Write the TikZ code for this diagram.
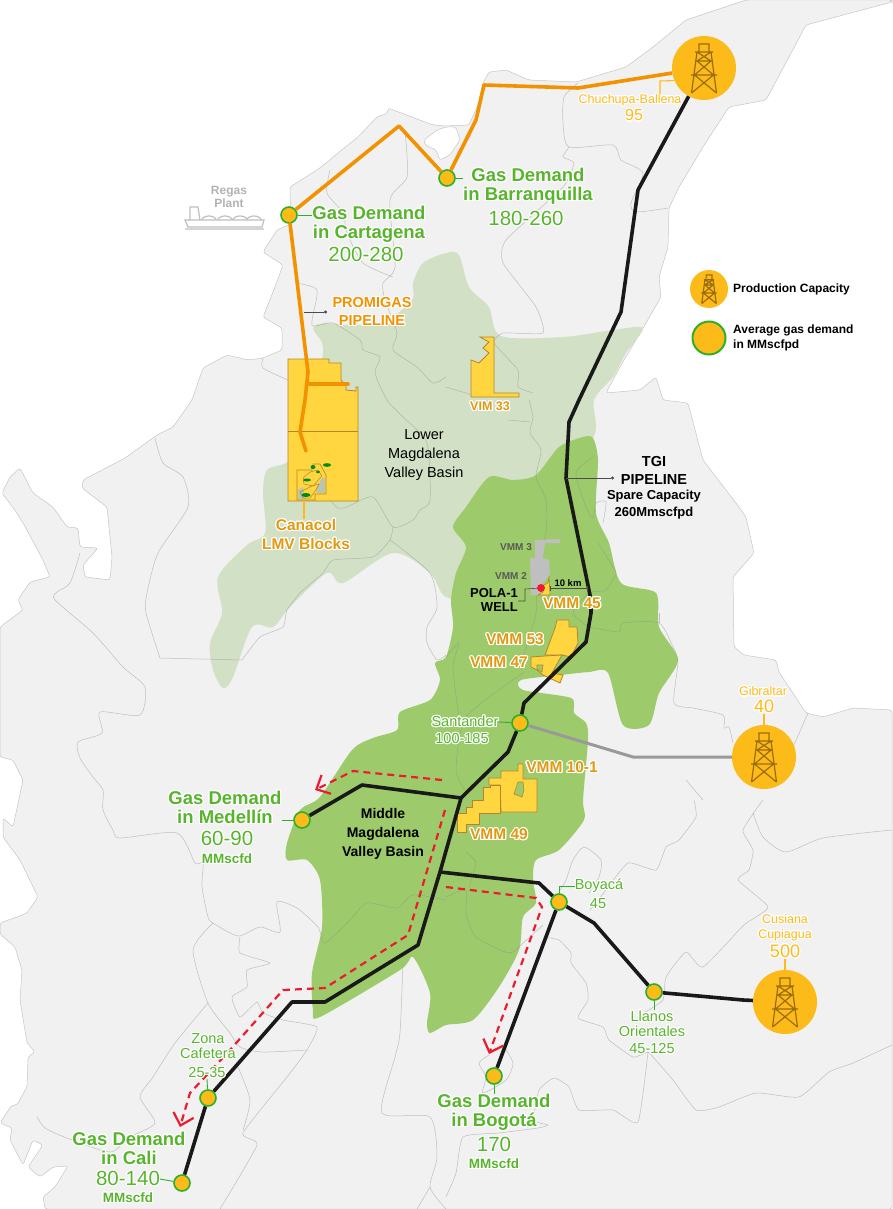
\documentclass[tikz,border=0pt]{standalone}
\usepackage{fontspec}
\usepackage[copies]{contour}
\usetikzlibrary{arrows.meta}
\setmainfont{Liberation Sans}
\contourlength{1.1pt}
\newcommand{\halo}[1]{\contour{white}{#1}}
\definecolor{landgrey}{HTML}{F1F1F1}
\definecolor{linegrey}{HTML}{C6C6C6}
\definecolor{palegreen}{HTML}{D2E1C6}
\definecolor{midgreen}{HTML}{9DCB6B}
\definecolor{blockyellow}{HTML}{FFD640}
\definecolor{blockedge}{HTML}{B5842B}
\definecolor{capacity}{HTML}{FDBB19}
\definecolor{rigbrown}{HTML}{9A6C10}
\definecolor{nodegreen}{HTML}{2DAF2C}
\definecolor{textgreen}{HTML}{58B42C}
\definecolor{pipeorange}{HTML}{F39200}
\definecolor{blocktext}{HTML}{E09A10}
\definecolor{routered}{HTML}{EC1C2E}
\tikzset{
  land/.style={fill=landgrey,draw=linegrey,line width=0.5pt,rounded corners=2.5pt},
  border/.style={draw=black!45,opacity=0.5,line width=0.5pt},
  block/.style={fill=blockyellow,draw=blockedge,line width=0.8pt},
  production/.style={circle,fill=capacity,inner sep=0pt,minimum size=64pt},
  demand/.style={circle,fill=capacity,draw=nodegreen,line width=1.6pt,inner sep=0pt,minimum size=16pt},
  promigas/.style={draw=pipeorange,line width=3.6pt,line join=round},
  tgi/.style={draw=black!90,line width=3.6pt,line join=round},
  spur/.style={draw=black!40,line width=3pt,line join=round},
  route/.style={draw=routered,line width=2.2pt,dash pattern=on 7pt off 5pt,-{Straight Barb[length=11pt,width=21pt]}},
  greenlead/.style={draw=nodegreen,line width=0.9pt},
  yellowlead/.style={draw=capacity,line width=1.1pt},
  darklead/.style={draw=black!70,line width=0.6pt,{Circle[length=3pt]}-},
  demandname/.style={text=textgreen,font=\fontsize{18.5}{19}\selectfont\bfseries,align=center,inner sep=0pt},
  demandnum/.style={text=textgreen,font=\fontsize{20.5}{21}\selectfont,align=center,inner sep=0pt},
  demandunit/.style={text=textgreen,font=\fontsize{13.5}{14}\selectfont\bfseries,inner sep=0pt},
  smallgreen/.style={text=textgreen,font=\fontsize{14.5}{15}\selectfont,align=center,inner sep=0pt},
  smallyellow/.style={text=capacity,font=\fontsize{12.5}{15}\selectfont,align=center,inner sep=0pt},
  bignumyellow/.style={text=capacity,font=\fontsize{18}{18}\selectfont,inner sep=0pt},
  blockname/.style={text=blocktext,font=\fontsize{15.5}{19}\selectfont\bfseries,align=center,inner sep=0pt},
  greyblock/.style={text=black!65,font=\fontsize{10}{10}\selectfont\bfseries,inner sep=0pt},
  basin/.style={font=\fontsize{14.5}{19}\selectfont,align=center,inner sep=0pt},
  blackbold/.style={font=\fontsize{14}{17}\selectfont\bfseries,align=center,inner sep=0pt},
  legendtext/.style={font=\fontsize{12}{15}\selectfont\bfseries,align=left,anchor=west,inner sep=0pt},
  rig/.pic={
    \draw[draw=rigbrown,line width=1.2pt]
      (-5,-16) -- (-5,-24) -- (5,-24) -- (5,-16)
      (-9,-16) -- (9,-16)
      (-7,-16) -- (-12.5,25)
      (7,-16) -- (12.5,25)
      (-7,-7) -- (7,-7)
      (-13,7) -- (13,7)
      (-7,-16) -- (7,-7)
      (7,-16) -- (-7,-7)
      (-7,-7) -- (9.5,7)
      (7,-7) -- (-9.5,7)
      (-9.5,7) -- (12.5,25)
      (9.5,7) -- (-12.5,25);
  }
}
\begin{document}
\begin{tikzpicture}[x=1pt,y=-1pt]
  \useasboundingbox (0,0) rectangle (892,1209);

  \draw[land] (746,0) -- (892,0) -- (892,2) -- (806,25) -- (766,100) -- (729,107) -- (703,147) -- (679,187) -- (669,208) -- (668,247) -- (659,277) -- (661,297) -- (643,328) -- (620,367) -- (606,393) -- (640,390) -- (656,377) -- (663,400) -- (688,403) -- (703,460) -- (739,507) -- (746,517) -- (754,553) -- (733,577) -- (734,647) -- (744,655) -- (776,660) -- (779,672) -- (806,713) -- (823,717) -- (853,708) -- (892,710) -- (892,1209) -- (45,1209) -- (43,1197) -- (55,1187) -- (68,1166) -- (53,1167) -- (40,1177) -- (28,1167) -- (43,1145) -- (33,1140) -- (23,1165) -- (10,1140) -- (12,1128) -- (0,1123) -- (12,1105) -- (17,1105) -- (27,1087) -- (28,1057) -- (35,1052) -- (27,1043) -- (20,1000) -- (22,970) -- (15,947) -- (0,934) -- (0,923) -- (17,917) -- (27,913) -- (38,897) -- (20,860) -- (3,837) -- (3,818) -- (13,827) -- (23,780) -- (13,760) -- (0,757) -- (0,627) -- (23,610) -- (18,600) -- (30,582) -- (50,577) -- (43,560) -- (27,530) -- (17,513) -- (2,493) -- (10,477) -- (20,468) -- (33,493) -- (53,507) -- (67,527) -- (78,528) -- (80,547) -- (98,548) -- (83,565) -- (85,577) -- (110,580) -- (112,557) -- (107,507) -- (82,488) -- (83,480) -- (125,458) -- (157,435) -- (173,427) -- (192,400) -- (203,368) -- (227,355) -- (248,360) -- (263,358) -- (282,350) -- (282,328) -- (263,317) -- (275,287) -- (283,265) -- (263,252) -- (277,230) -- (293,223) -- (290,200) -- (290,187) -- (317,170) -- (330,160) -- (333,157) -- (358,137) -- (377,117) -- (388,113) -- (388,108) -- (433,125) -- (446,126) -- (469,125) -- (478,105) -- (483,83) -- (489,72) -- (506,70) -- (529,80) -- (576,82) -- (626,67) -- (653,47) -- (686,20) -- cycle;
  \draw[fill=white,draw=linegrey,line width=0.5pt,rounded corners=2pt] (437,130) -- (446,127) -- (456,127) -- (460,140) -- (450,155) -- (440,160) -- (436,150) -- (425,145) -- (424,140) -- cycle;

  \fill[palegreen] plot[smooth cycle,tension=0.5] coordinates {(446,253) (423,263) (413,283) (412,300) (383,323) (350,325) (325,323) (313,328) (322,343) (322,360) (310,440) (288,462) (267,470) (263,493) (265,533) (247,545) (218,577) (222,613) (210,643) (213,670) (223,688) (233,677) (252,627) (273,627) (290,607) (327,573) (343,583) (393,553) (430,573) (446,597) (480,590) (540,480) (593,438) (594,400) (613,377) (626,353) (643,328) (613,330) (563,337) (501,336) (489,307) (469,287) (459,255)};
  \fill[midgreen] plot[smooth cycle,tension=0.45] coordinates {(593,438) (598,460) (596,513) (609,543) (621,583) (656,593) (659,627) (678,660) (659,693) (649,725) (623,725) (608,673) (589,672) (561,675) (521,680) (523,690) (571,698) (574,713) (586,723) (588,740) (583,800) (584,820) (559,850) (536,860) (533,880) (536,903) (523,917) (519,950) (499,987) (473,1020) (446,1025) (430,1033) (427,1023) (430,993) (413,957) (400,970) (320,1017) (313,1010) (312,973) (322,927) (320,880) (307,860) (287,860) (287,843) (300,810) (320,797) (352,750) (373,738) (397,730) (400,712) (430,700) (440,680) (435,663) (446,657) (453,627) (451,600) (456,573) (466,547) (453,527) (466,507) (489,477) (513,480) (536,475) (559,447) (583,437)};

  \draw[border] plot[smooth,tension=0.4] coordinates {(399,126) (405,133) (407,177) (390,200) (395,267) (383,283) (385,300) (397,333) (393,350) (417,367) (433,383) (446,377)};
  \draw[border] plot[smooth,tension=0.4] coordinates {(330,170) (327,193) (343,213) (347,233) (363,263) (393,277)};
  \draw[border] plot[smooth,tension=0.4] coordinates {(295,283) (317,290) (312,325) (333,323) (360,340) (363,350) (380,357) (375,373) (387,400) (403,417) (427,443) (430,500) (420,510) (413,520) (393,527) (373,497) (347,507) (338,508) (330,500)};
  \draw[border] plot[smooth,tension=0.4] coordinates {(263,358) (263,368) (288,380)};
  \draw[border] plot[smooth,tension=0.3] coordinates {(393,527) (390,540) (373,557) (333,560) (323,573) (300,593) (287,610) (283,627) (260,637) (242,660)};
  \draw[border] (242,660) -- (160,658);
  \draw[border] plot[smooth,tension=0.4] coordinates {(160,658) (146,613) (147,593) (158,553) (188,507) (183,477) (163,463) (155,438)};
  \draw[border] plot[smooth,tension=0.4] coordinates {(390,540) (430,573) (437,607) (427,627) (427,643) (437,660) (446,655)};
  \draw[border] plot[smooth,tension=0.4] coordinates {(80,553) (70,583) (57,592) (55,600) (93,633) (123,667) (145,687) (140,715) (100,712) (102,733) (78,742) (80,758) (93,777) (103,790) (103,810) (113,830) (120,838) (177,833) (195,863) (203,863) (202,887) (208,917) (213,923) (238,936) (260,927) (280,932) (277,902) (297,908) (318,927) (325,943) (350,920) (367,903) (397,908) (413,895) (446,900)};
  \draw[border] plot[smooth,tension=0.4] coordinates {(213,923) (193,950) (208,1003) (230,1033) (240,1047) (262,1052) (307,1050)};
  \draw[border] plot[smooth,tension=0.4] coordinates {(208,1003) (175,1043) (153,1077) (140,1097) (155,1123) (130,1137) (110,1152) (67,1138) (45,1128) (37,1117)};
  \draw[border] plot[smooth,tension=0.3] coordinates {(240,937) (240,953) (270,963) (247,970) (247,987) (232,997) (240,1017) (257,1002) (263,1013) (283,1020) (317,1027) (307,1050) (287,1077) (243,1133) (257,1145) (220,1209)};
  \draw[border] plot[smooth,tension=0.4] coordinates {(238,1067) (250,1100) (243,1130)};
  \draw[border] plot[smooth,tension=0.4] coordinates {(403,963) (400,1033) (395,1057) (382,1113) (430,1117) (437,1157) (430,1187) (446,1209)};
  \draw[border] (430,1187) -- (417,1209);
  \draw[border] plot[smooth,tension=0.3] coordinates {(694,800) (696,817) (679,840) (666,847) (656,870) (628,863) (606,890) (590,910)};
  \draw[border] plot[smooth,tension=0.4] coordinates {(560,890) (566,880) (573,860) (584,847) (601,860) (599,877) (589,893)};
  \draw[border] plot[smooth,tension=0.3] coordinates {(763,800) (743,830) (753,850) (749,870) (738,880) (768,907) (744,925) (703,967) (686,952) (666,977) (663,1000) (645,1012)};
  \draw[border] plot[smooth,tension=0.4] coordinates {(753,813) (763,837) (786,852) (823,838) (892,830)};
  \draw[border] plot[smooth,tension=0.3] coordinates {(543,937) (559,940) (571,953) (571,963) (586,983) (588,1000) (578,1018) (603,1027) (609,1040) (633,1057) (648,1052) (653,1057) (673,1080) (696,1110) (719,1107) (756,1093) (799,1097) (829,1072) (853,1063) (892,1045)};
  \draw[border] plot[smooth,tension=0.3] coordinates {(648,1052) (638,1122) (613,1110) (579,1110) (569,1087) (554,1078) (539,1090) (534,1120) (548,1125) (538,1128) (499,1133) (463,1137) (456,1173) (446,1197)};
  \draw[border] plot[smooth,tension=0.4] coordinates {(489,1055) (479,1063) (486,1077) (483,1093) (506,1080) (513,1063) (504,1047)};
  \draw[border] plot[smooth,tension=0.4] coordinates {(446,897) (466,890) (466,913) (476,937) (509,953) (523,943) (543,925)};
  \draw[border] plot[smooth,tension=0.4] coordinates {(466,852) (476,863) (469,887)};
  \draw[border] plot[smooth,tension=0.4] coordinates {(459,717) (453,667) (459,643) (446,657)};
  \draw[border] plot[smooth,tension=0.4] coordinates {(523,673) (466,717) (456,770) (465,790)};
  \draw[border] plot[smooth,tension=0.4] coordinates {(589,627) (619,632) (623,623) (659,623) (673,647) (678,662) (674,703) (693,708) (723,715) (724,728) (729,727) (733,743)};
  \draw[border] (659,623) -- (659,613);
  \draw[border] plot[smooth,tension=0.4] coordinates {(686,780) (703,800)};
  \draw[border] plot[smooth,tension=0.4] coordinates {(808,713) (793,747) (779,777)};
  \draw[border] plot[smooth,tension=0.4] coordinates {(529,400) (533,417) (530,433) (541,450) (536,477) (546,500) (546,533) (536,567) (536,613) (523,657)};
  \draw[border] (508,420) -- (530,422);
  \draw[border] plot[smooth,tension=0.4] coordinates {(593,457) (576,473) (586,507) (593,518) (596,503) (606,502) (603,523)};
  \draw[border] plot[smooth,tension=0.4] coordinates {(598,543) (613,567) (616,573) (606,590) (589,593) (573,613) (589,627)};
  \draw[border] plot[smooth,tension=0.4] coordinates {(578,83) (564,97) (563,123) (569,147) (613,145) (621,160) (643,173) (631,203) (636,212) (668,208)};
  \draw[border] plot[smooth,tension=0.3] coordinates {(569,147) (563,157) (574,163) (563,187) (506,240) (503,263) (536,307) (543,333) (503,333) (494,343) (518,370) (518,387) (533,393)};
  \draw[border] (446,387) -- (479,397);

  \draw[block] (288,359) -- (329,359) -- (329,363) -- (341,363) -- (341,380) -- (346,386) -- (346,390) -- (356,391) -- (356,387) -- (358,387) -- (358,501) -- (288,501) -- cycle;
  \draw[draw=blockedge,line width=0.8pt] (288,431) -- (358,431);
  \draw[block,line width=0.6pt] (297,470) -- (312,470) -- (313,464) -- (320,464) -- (326,475) -- (326,494) -- (315,494) -- (315,500) -- (297,500) -- cycle;
  \fill[palegreen!70!gray] (298,490) -- (303,487) -- (306,499) -- (298,499) -- cycle;
  \fill[palegreen!70!gray] (316,489) -- (322,478) -- (325,478) -- (325,493) -- (317,493) -- cycle;
  \draw[draw=blockedge,line width=0.5pt] (303,478) -- (310,472) -- (318,470) -- (322,476) -- (313,486) -- (304,484) -- cycle;
  \draw[draw=blockedge,line width=0.5pt] (300,492) -- (312,486) -- (319,484) -- (316,490) -- (310,498) -- (303,498) -- cycle;
  \fill[green!55!black] (327,465) ellipse (4 and 1.8) (313,467) ellipse (2.5 and 2) (307,480) ellipse (4 and 1.5) (306,495) ellipse (4.5 and 2) (318,472) ellipse (2 and 1.2);
  \draw[block] (480,337) -- (494,337) -- (494,393) -- (519,393) -- (519,397) -- (471,397) -- (471,360) -- (479,363) -- (489,353) -- (483,348) -- (489,342) -- cycle;
  \draw[fill=black!25,draw=none] (530,558) -- (535,558) -- (535,540) -- (560,539) -- (560,543) -- (545,543) -- (543,558) -- (549,560) -- (550,575) -- (543,583) -- (542,595) -- (531,595) -- cycle;
  \draw[block,line width=0.6pt] (538,595) -- (543,592) -- (544,585) -- (548,583) -- (549,577) -- (550,595) -- cycle;
  \draw[block] (557,620) -- (569,620) -- (569,627) -- (577,627) -- (578,643) -- (571,657) -- (562,655) -- (545,655) -- (555,628) -- cycle;
  \draw[block] (531,657) -- (545,656) -- (562,655) -- (552,673) -- (563,675) -- (560,683) -- (543,675) -- (537,670) -- (531,667) -- cycle;
  \draw[fill=midgreen,draw=blockedge,line width=0.6pt] (537,665) -- (543,665) -- (542,672) -- (537,669) -- cycle;
  \draw[block] (489,778) -- (501,778) -- (501,771) -- (518,771) -- (518,764) -- (523,764) -- (523,779) -- (537,779) -- (537,812) -- (501,812) -- (500,785) -- (489,785) -- cycle;
  \draw[fill=midgreen,draw=blockedge,line width=0.6pt] (518,782) -- (523,782) -- (524,790) -- (522,797) -- (514,794) -- cycle;
  \draw[block] (457,832) -- (457,813) -- (466,813) -- (466,807) -- (472,807) -- (472,800) -- (483,800) -- (483,787) -- (490,787) -- (490,785) -- (500,785) -- (500,813) -- (479,813) -- (479,824) -- (466,824) -- (466,832) -- cycle;

  \node[production] (chuchupa) at (704,68) {};
  \node[production] (gibraltar) at (764,757) {};
  \node[production] (cusiana) at (785,1002) {};
  \node[demand] (barranquilla) at (447,178) {};
  \node[demand] (cartagena) at (289,215) {};
  \node[demand] (santander) at (520,723) {};
  \node[demand] (medellin) at (302,820) {};
  \node[demand] (boyaca) at (559,902) {};
  \node[demand] (llanos) at (654,992) {};
  \node[demand] (bogota) at (494,1076) {};
  \node[demand] (zona) at (208,1098) {};
  \node[demand] (cali) at (182,1183) {};
  \pic at (chuchupa) {rig};
  \pic at (gibraltar) {rig};
  \pic at (cusiana) {rig};

  \coordinate (pa) at (578,88);
  \coordinate (pb) at (484,85);
  \coordinate (pc) at (476,120);
  \coordinate (pd) at (399,126);
  \coordinate (pe) at (308,372);
  \coordinate (pf) at (305,400);
  \coordinate (pg) at (300,432);
  \coordinate (ph) at (306,451);
  \coordinate (pi) at (307,384);
  \coordinate (pj) at (348,384);
  \draw[promigas] (chuchupa) -- (pa) -- (pb) -- (pc) -- (barranquilla);
  \draw[promigas] (barranquilla) -- (pd) -- (cartagena);
  \draw[promigas,line cap=round] (cartagena) -- (pe) -- (pf) -- (pg) -- (ph);
  \draw[promigas,line cap=round] (pi) -- (pj);

  \coordinate (ta) at (638,190);
  \coordinate (tb) at (621,312);
  \coordinate (tc) at (579,400);
  \coordinate (td) at (569,422);
  \coordinate (te) at (566,478);
  \coordinate (tf) at (591,600);
  \coordinate (tg) at (591,613);
  \coordinate (th) at (586,642);
  \coordinate (ti) at (524,703);
  \coordinate (tj) at (508,752);
  \coordinate (tk) at (461,798);
  \coordinate (tl) at (362,785);
  \coordinate (tm) at (440,872);
  \coordinate (tn) at (418,945);
  \coordinate (to) at (325,1002);
  \coordinate (tp) at (292,1002);
  \coordinate (tq) at (539,883);
  \coordinate (tr) at (594,923);
  \coordinate (ts) at (743,1000);
  \draw[tgi] (chuchupa) -- (ta) -- (tb) -- (tc) -- (td) -- (te) -- (tf) -- (tg) -- (th) -- (ti) -- (santander);
  \draw[tgi] (santander) -- (tj) -- (tk) -- (tm) -- (tn) -- (to) -- (tp) -- (zona);
  \draw[tgi] (zona) -- (cali);
  \draw[tgi] (tk) -- (tl) -- (medellin);
  \draw[tgi] (tm) -- (tq) -- (boyaca);
  \draw[tgi] (boyaca) -- (bogota);
  \draw[tgi] (boyaca) -- (tr) -- (llanos);
  \draw[tgi] (llanos) -- (ts) -- (cusiana);
  \coordinate (ga) at (633,757);
  \draw[spur] (santander) -- (ga) -- (gibraltar);

  \coordinate (ra) at (442,780);
  \coordinate (rb) at (353,771);
  \coordinate (rc) at (315,790);
  \draw[route] (ra) -- (rb) -- (rc);
  \coordinate (rd) at (445,810);
  \coordinate (re) at (408,935);
  \coordinate (rf) at (325,988);
  \coordinate (rg) at (283,990);
  \coordinate (rh) at (230,1050);
  \coordinate (ri) at (190,1093);
  \coordinate (rj) at (180,1127);
  \draw[route] (rd) -- (re) -- (rf) -- (rg) -- (rh) -- (ri) -- (rj);
  \coordinate (rk) at (446,887);
  \coordinate (rl) at (536,898);
  \coordinate (rm) at (542,907);
  \coordinate (rn) at (489,1054);
  \draw[route] (rk) -- (rl) -- (rm) -- (rn);

  \node[demandname] (lblcartagena) at (369,225) {\halo{Gas Demand}\\\halo{in Cartagena}};
  \node[demandnum] (numcartagena) at (366,255) {\halo{200-280}};
  \node[demandname] (lblbarranquilla) at (528,187) {\halo{Gas Demand}\\\halo{in Barranquilla}};
  \node[demandnum] (numbarranquilla) at (526,219) {\halo{180-260}};
  \node[demandname] (lblmedellin) at (225,808) {\halo{Gas Demand}\\\halo{in Medellín}};
  \node[demandnum] (nummedellin) at (227,839) {\halo{60-90}};
  \node[demandunit] (unitmedellin) at (227,859) {\halo{MMscfd}};
  \node[demandname] (lblcali) at (129,1149) {\halo{Gas Demand}\\\halo{in Cali}};
  \node[demandnum] (numcali) at (128,1179) {\halo{80-140}};
  \node[demandunit] (unitcali) at (128,1198) {\halo{MMscfd}};
  \node[demandname] (lblbogota) at (494,1113) {\halo{Gas Demand}\\\halo{in Bogotá}};
  \node[demandnum] (numbogota) at (494,1145) {\halo{170}};
  \node[demandunit] (unitbogota) at (494,1164) {\halo{MMscfd}};
  \node[smallgreen] (lblsantander) at (465,722) {\halo{Santander}};
  \node[smallgreen] (numsantander) at (462,739) {\halo{100-185}};
  \node[smallgreen] (lblboyaca) at (599,886) {\halo{Boyacá}};
  \node[smallgreen] (numboyaca) at (598,904) {\halo{45}};
  \node[smallgreen] (lblllanos) at (652,1024) {\halo{Llanos}\\\halo{Orientales}};
  \node[smallgreen] (numllanos) at (652,1049) {\halo{45-125}};
  \node[smallgreen] (lblzona) at (208,1047) {\halo{Zona}\\\halo{Cafetera}};
  \node[smallgreen] (numzona) at (207,1073) {\halo{25-35}};
  \draw[greenlead] (cartagena) -- (lblcartagena.west |- cartagena);
  \draw[greenlead] (barranquilla) -- (lblbarranquilla.north west |- barranquilla);
  \draw[greenlead] (medellin) -- (lblmedellin.south east |- medellin);
  \draw[greenlead] (cali) -- (numcali.east);
  \draw[greenlead] (bogota) -- (lblbogota.north);
  \draw[greenlead] (santander) -- (lblsantander.east);
  \draw[greenlead] (boyaca) |- (lblboyaca.west);
  \draw[greenlead] (llanos) -- (lblllanos.north -| llanos);
  \draw[greenlead] (zona) -- (numzona.south);

  \node[smallyellow] (lblchuchupa) at (630,101) {\halo{Chuchupa-Ballena}};
  \node[bignumyellow,font=\fontsize{16}{16}\selectfont] (numchuchupa) at (634,116) {\halo{95}};
  \node[smallyellow] (lblgibraltar) at (763,692) {\halo{Gibraltar}};
  \node[bignumyellow] (numgibraltar) at (764,707) {\halo{40}};
  \node[smallyellow] (lblcusiana) at (785,928) {\halo{Cusiana}\\\halo{Cupiagua}};
  \node[bignumyellow] (numcusiana) at (785,952) {\halo{500}};
  \coordinate (chuchupabend) at (660,81);
  \coordinate (chuchupafoot) at (660,94);
  \draw[yellowlead] (chuchupa.203) -- (chuchupabend) -- (chuchupafoot);
  \draw[yellowlead] (gibraltar) -- (numgibraltar.south);
  \draw[yellowlead] (cusiana) -- (numcusiana.south);

  \node[text=pipeorange,font=\fontsize{14.5}{17.5}\selectfont\bfseries,align=center,inner sep=0pt] (lblpromigas) at (372,312) {\halo{PROMIGAS}\\\halo{PIPELINE}};
  \coordinate (promigasdot) at (327,312);
  \coordinate (promigasend) at (304,312);
  \draw[darklead] (promigasdot) -- (promigasend);
  \node[blackbold,font=\fontsize{14.5}{18}\selectfont\bfseries] (lbltgi) at (654,470) {TGI\\PIPELINE};
  \node[blackbold,font=\fontsize{13}{17}\selectfont\bfseries] (lblspare) at (654,505) {Spare Capacity\\260Mmscfpd};
  \coordinate (tgidot) at (614,478);
  \draw[darklead] (tgidot) -- (te);

  \node[basin] (lbllower) at (424,455) {Lower\\Magdalena\\Valley Basin};
  \node[basin,font=\fontsize{14}{19}\selectfont\bfseries] (lblmiddle) at (383,834) {Middle\\Magdalena\\Valley Basin};

  \node[blockname,font=\fontsize{12.5}{13}\selectfont\bfseries] (lblvim) at (490,407) {\halo{VIM 33}};
  \coordinate (canacolfoot) at (304,501);
  \node[blockname] (lblcanacol) at (306,535) {\halo{Canacol}\\\halo{LMV Blocks}};
  \draw[yellowlead] (canacolfoot) -- (lblcanacol.north -| canacolfoot);
  \node[blockname] (lblvmmfive) at (572,604) {\halo{VMM 45}};
  \node[blockname] (lblvmmthree) at (515,640) {\halo{VMM 53}};
  \node[blockname] (lblvmmseven) at (499,663) {\halo{VMM 47}};
  \node[blockname] (lblvmmten) at (562,768) {\halo{VMM 10-1}};
  \node[blockname] (lblvmmnine) at (499,835) {\halo{VMM 49}};
  \node[greyblock] (lblthree) at (516,547) {VMM 3};
  \node[greyblock] (lbltwo) at (511,576) {VMM 2};

  \node[blackbold,font=\fontsize{13}{13.5}\selectfont\bfseries,align=right,anchor=east] (lblpola) at (518,600) {POLA-1\\WELL};
  \node[circle,fill=routered,inner sep=0pt,minimum size=8pt] (polawell) at (541,588) {};
  \coordinate (polabend) at (525,589);
  \coordinate (polaturn) at (525,601);
  \draw[darklead,-] (polawell) -- (polabend) -- (polaturn) -- (lblpola.east |- polaturn);
  \coordinate (tenwest) at (550,588);
  \coordinate (teneast) at (588,588);
  \draw[draw=black!70,line width=0.8pt,{Bar[width=5pt]}-{Bar[width=5pt]}] (tenwest) -- (teneast);
  \node[font=\fontsize{9.5}{10}\selectfont\bfseries,inner sep=0pt] (lblten) at (568,583) {10 km};

  \node[text=black!30,font=\fontsize{12}{11}\selectfont\bfseries,align=center,inner sep=0pt] (lblregas) at (229,197) {Regas\\Plant};
  \draw[draw=black!25,line width=1.2pt,fill=white] (185,220) -- (264,220) -- (262,227) -- (188,227) -- cycle;
  \draw[draw=black!25,line width=1.2pt] (190,220) -- (190,207) -- (198,207) -- (200,220) (185,229) -- (264,229);
  \draw[draw=black!25,line width=1.2pt] (202,220) arc[start angle=180,end angle=0,x radius=7,y radius=-4] (218,220) arc[start angle=180,end angle=0,x radius=7,y radius=-4] (233,220) arc[start angle=180,end angle=0,x radius=7,y radius=-4] (247,220) arc[start angle=180,end angle=0,x radius=7,y radius=-4];

  \node[production,minimum size=38pt] (keyrig) at (709,289) {};
  \pic[scale=0.58] at (keyrig) {rig};
  \node[demand,minimum size=33pt,line width=2pt] (keydemand) at (709,338) {};
  \node[legendtext] (lblkeyrig) at (733,289) {Production Capacity};
  \node[legendtext] (lblkeydemand) at (733,338) {Average gas demand\\in MMscfpd};
\end{tikzpicture}
\end{document}
